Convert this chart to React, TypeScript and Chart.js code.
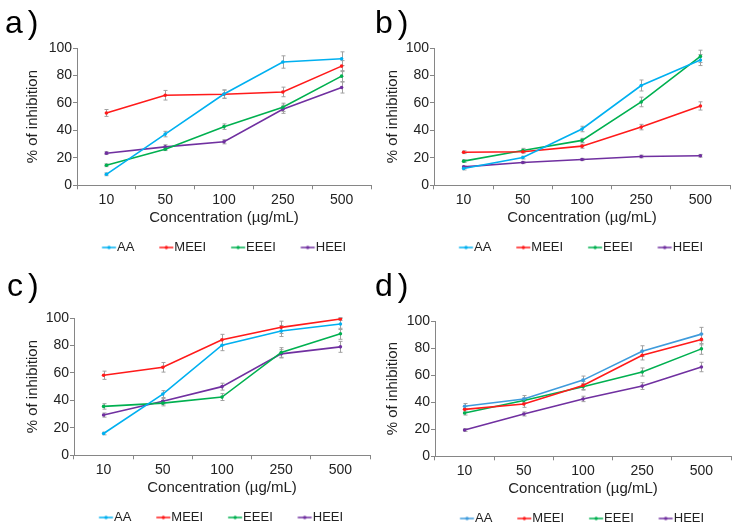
import React, { useEffect, useRef } from "react";
import { Chart, registerables } from "chart.js";

Chart.register(...registerables);

const FONT = "'Liberation Sans', Arial, sans-serif";
const TEXT = "#222222";
const AXIS = "#868686";
const ERR = "#a0a0a0";
const LEGEND_FS = 13;
const LEGEND_BOX = 21.5;

const categories = ["10", "50", "100", "250", "500"];
const seriesNames = ["AA", "MEEI", "EEEI", "HEEI"];
const colorsABC = ["#00B0F0", "#FF1A1A", "#00B050", "#7030A0"];
const colorsD = ["#3E9BDC", "#FF1A1A", "#00B050", "#7030A0"];
const xTitle = "Concentration (µg/mL)";
const yTitle = "% of inhibition";

// panel a)
const aAA = [8.0, 37.3, 66.5, 89.8, 92.2];
const aMEEI = [52.7, 65.6, 66.3, 68.0, 86.8];
const aEEEI = [14.6, 26.3, 42.7, 56.8, 79.5];
const aHEEI = [23.4, 28.0, 31.7, 55.4, 71.2];
const aAAErr = [1, 2, 3, 4.5, 5];
const aMEEIErr = [2.5, 3.5, 3, 3.5, 4];
const aEEEIErr = [1, 1, 2, 3, 4];
const aHEEIErr = [1, 1.5, 1.5, 3, 4];

// panel b)
const bAA = [12.2, 20.2, 41.0, 72.7, 91.2];
const bMEEI = [24.1, 24.4, 28.5, 42.4, 57.8];
const bEEEI = [17.6, 25.4, 32.7, 60.7, 93.9];
const bHEEI = [13.4, 16.6, 18.8, 21.0, 21.5];
const bAAErr = [1, 1, 2, 4, 4];
const bMEEIErr = [1, 1, 1.5, 2, 3];
const bEEEIErr = [1, 1.5, 1.5, 3.5, 4.5];
const bHEEIErr = [0.8, 0.8, 0.8, 1, 1];

// panel c)
const cAA = [15.9, 44.6, 80.2, 90.5, 95.6];
const cMEEI = [58.3, 64.1, 84.1, 93.2, 99.3];
const cEEEI = [35.6, 38.0, 42.4, 74.9, 88.5];
const cHEEI = [29.3, 39.3, 50.0, 73.9, 79.0];
const cAAErr = [1, 2.5, 4, 4, 4];
const cMEEIErr = [3, 3.5, 4, 4.5, 1];
const cEEEIErr = [2, 2, 2.5, 3.5, 4];
const cHEEIErr = [1.5, 2, 2.5, 3, 4];

// panel d)
const dAA = [37.0, 42.4, 56.3, 77.7, 90.3];
const dMEEI = [34.7, 38.7, 52.4, 74.7, 86.4];
const dEEEI = [32.0, 41.2, 51.4, 62.3, 79.4];
const dHEEI = [19.4, 31.3, 42.4, 51.9, 66.0];
const dAAErr = [2, 2.5, 3, 4, 5];
const dMEEIErr = [2, 2.5, 3, 3.5, 4];
const dEEEIErr = [1.5, 2, 2.5, 3, 4];
const dHEEIErr = [1, 1.5, 2, 2.5, 3.5];

const errorBarPlugin = {
  id: "errorBars",
  beforeDatasetsDraw(chart: any) {
    const ctx = chart.ctx;
    const yScale = chart.scales.y;
    ctx.save();
    ctx.strokeStyle = ERR;
    ctx.lineWidth = 1;
    chart.data.datasets.forEach((ds: any, di: number) => {
      const meta = chart.getDatasetMeta(di);
      if (!ds.errors) return;
      meta.data.forEach((pt: any, i: number) => {
        const v = ds.data[i];
        const e = ds.errors[i];
        const x = Math.round(pt.x) + 0.5;
        const yt = yScale.getPixelForValue(v + e);
        const yb = yScale.getPixelForValue(v - e);
        ctx.beginPath();
        ctx.moveTo(x, yt);
        ctx.lineTo(x, yb);
        ctx.moveTo(x - 2, yt);
        ctx.lineTo(x + 2, yt);
        ctx.moveTo(x - 2, yb);
        ctx.lineTo(x + 2, yb);
        ctx.stroke();
      });
    });
    ctx.restore();
  },
};

function legendMarker(color: string) {
  // the image is centred on the legend box; the visible line ends just before the text
  const textStart = LEGEND_BOX / 2 + LEGEND_FS / 2; // relative to image centre
  const half = Math.ceil(textStart) + 1;
  const c = document.createElement("canvas");
  c.width = half * 2;
  c.height = 6;
  const g = c.getContext("2d")!;
  const end = half + textStart - 1;
  const start = end - 14;
  g.strokeStyle = color;
  g.lineWidth = 1.5;
  g.beginPath();
  g.moveTo(start, 3);
  g.lineTo(end, 3);
  g.stroke();
  g.fillStyle = color;
  g.beginPath();
  g.arc((start + end) / 2, 3, 1.7, 0, Math.PI * 2);
  g.fill();
  return c;
}

type PanelProps = {
  x0: number;
  y0: number;
  width: number;
  height: number;
  padLeft: number;
  padTop: number;
  yAxisWidth: number;
  values: number[][];
  errors: number[][];
  colors: string[];
};

function Panel(p: PanelProps) {
  const ref = useRef<HTMLCanvasElement | null>(null);
  useEffect(() => {
    if (!ref.current) return;
    const markers = p.colors.map((c) => legendMarker(c));
    const chart = new Chart(ref.current, {
      type: "line",
      data: {
        labels: categories,
        datasets: seriesNames.map((name, i) => ({
          label: name,
          data: p.values[i],
          errors: p.errors[i],
          borderColor: p.colors[i],
          backgroundColor: p.colors[i],
          borderWidth: 1.6,
          pointRadius: 1.8,
          pointStyle: "circle",
          pointBorderWidth: 0,
          tension: 0,
          fill: false,
        })) as any,
      },
      options: {
        responsive: false,
        animation: false,
        events: [],
        layout: {
          padding: { left: p.padLeft, top: p.padTop, right: 0, bottom: 0 },
        },
        scales: {
          x: {
            type: "category",
            offset: true,
            grid: {
              display: true,
              offset: true,
              drawOnChartArea: false,
              drawTicks: true,
              tickLength: 4,
              color: AXIS,
            },
            border: { display: true, color: AXIS, width: 1 },
            ticks: {
              font: { family: FONT, size: 14 },
              color: TEXT,
              padding: 2,
              maxRotation: 0,
              autoSkip: false,
            },
            title: {
              display: true,
              text: xTitle,
              font: { family: FONT, size: 15 },
              color: TEXT,
              padding: { top: 0, bottom: 2.3 },
            },
            afterFit: (s: any) => {
              s.height = 43.7;
            },
          },
          y: {
            min: 0,
            max: 100,
            grid: {
              display: true,
              drawOnChartArea: false,
              drawTicks: true,
              tickLength: 4,
              color: AXIS,
            },
            border: { display: true, color: AXIS, width: 1 },
            ticks: {
              stepSize: 20,
              autoSkip: false,
              font: { family: FONT, size: 14 },
              color: TEXT,
              padding: 1,
            },
            title: {
              display: true,
              text: yTitle,
              font: { family: FONT, size: 15 },
              color: TEXT,
              padding: { top: 4, bottom: 0 },
            },
            afterFit: (s: any) => {
              s.width = p.yAxisWidth;
            },
          },
        },
        plugins: {
          tooltip: { enabled: false },
          legend: {
            display: true,
            position: "bottom",
            align: "start",
            fullSize: false,
            labels: {
              usePointStyle: true,
              pointStyleWidth: LEGEND_BOX,
              padding: 12,
              font: { family: FONT, size: LEGEND_FS },
              color: TEXT,
              generateLabels: (ch: any) => {
                const items = (Chart.defaults.plugins.legend.labels as any).generateLabels(ch);
                return items.map((it: any, i: number) => ({ ...it, pointStyle: markers[i] }));
              },
            },
          },
        },
      } as any,
      plugins: [errorBarPlugin],
    });
    return () => chart.destroy();
  }, []);

  return (
    <canvas
      ref={ref}
      width={p.width}
      height={p.height}
      style={{
        position: "absolute",
        left: p.x0,
        top: p.y0,
        width: p.width,
        height: p.height,
        display: "block",
      }}
    />
  );
}

function PanelLabel({ text, x, y }: { text: string; x: number; y: number }) {
  return (
    <div
      style={{
        position: "absolute",
        left: x,
        top: y,
        fontFamily: FONT,
        fontSize: 32,
        lineHeight: "32px",
        letterSpacing: 5,
        color: "#000",
        whiteSpace: "nowrap",
      }}
    >
      {text}
    </div>
  );
}

export default function App() {
  return (
    <div
      style={{
        position: "fixed",
        left: 0,
        top: 0,
        width: 741,
        height: 529,
        overflow: "hidden",
        background: "#ffffff",
      }}
    >
      <Panel
        x0={0}
        y0={0}
        width={375}
        height={264}
        padLeft={20}
        padTop={48}
        yAxisWidth={57}
        values={[aAA, aMEEI, aEEEI, aHEEI]}
        errors={[aAAErr, aMEEIErr, aEEEIErr, aHEEIErr]}
        colors={colorsABC}
      />
      <Panel
        x0={370}
        y0={0}
        width={364}
        height={264}
        padLeft={10}
        padTop={48}
        yAxisWidth={54}
        values={[bAA, bMEEI, bEEEI, bHEEI]}
        errors={[bAAErr, bMEEIErr, bEEEIErr, bHEEIErr]}
        colors={colorsABC}
      />
      <Panel
        x0={0}
        y0={264}
        width={374}
        height={270}
        padLeft={20}
        padTop={54}
        yAxisWidth={54}
        values={[cAA, cMEEI, cEEEI, cHEEI]}
        errors={[cAAErr, cMEEIErr, cEEEIErr, cHEEIErr]}
        colors={colorsABC}
      />
      <Panel
        x0={370}
        y0={264}
        width={365}
        height={271}
        padLeft={10}
        padTop={57}
        yAxisWidth={55}
        values={[dAA, dMEEI, dEEEI, dHEEI]}
        errors={[dAAErr, dMEEIErr, dEEEIErr, dHEEIErr]}
        colors={colorsD}
      />
      <PanelLabel text="a)" x={5} y={6} />
      <PanelLabel text="b)" x={375} y={6} />
      <PanelLabel text="c)" x={7} y={269} />
      <PanelLabel text="d)" x={375} y={269} />
    </div>
  );
}
